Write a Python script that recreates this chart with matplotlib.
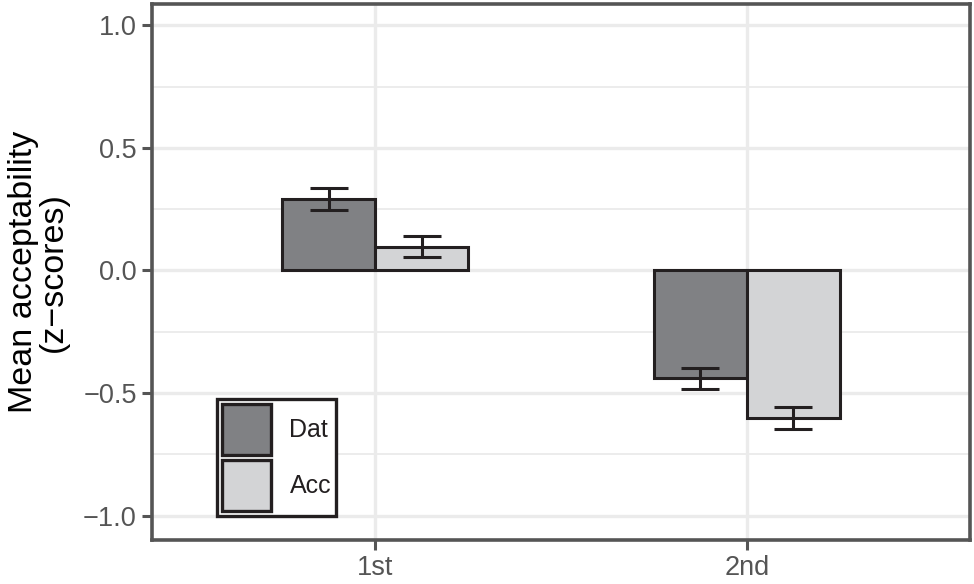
import numpy as np
import matplotlib
matplotlib.use("Agg")
import matplotlib.pyplot as plt
from matplotlib.patches import Patch

plt.rcParams['font.family'] = ['Liberation Sans', 'DejaVu Sans']

positions = ['1st', '2nd']
groups = ['Dat', 'Acc']
means = {'Dat': [0.29, -0.44], 'Acc': [0.096, -0.601]}
lower = {'Dat': [0.245, -0.484], 'Acc': [0.053, -0.646]}
upper = {'Dat': [0.337, -0.397], 'Acc': [0.139, -0.557]}
colors = {'Dat': '#808184', 'Acc': '#d3d4d6'}
yticks = [-1.0, -0.5, 0.0, 0.5, 1.0]
ytick_labels = ['\u22121.0', '\u22120.5', '0.0', '0.5', '1.0']

fig = plt.figure(figsize=(9.74, 5.84), dpi=100)
ax = fig.add_axes([0.156, 0.0753, 0.84, 0.918])

x = np.arange(1, len(positions) + 1)
width = 0.25
offsets = {'Dat': -width / 2, 'Acc': width / 2}

for g in groups:
    xs = x + offsets[g]
    m = np.array(means[g])
    lo = np.array(lower[g])
    hi = np.array(upper[g])
    ax.bar(xs, m, width=width, color=colors[g], edgecolor='#231f20',
           linewidth=2.2, zorder=3, label=g)
    ax.errorbar(xs, m, yerr=[m - lo, hi - m], fmt='none', ecolor='#231f20',
                elinewidth=2.2, capsize=13.5, capthick=2.2, zorder=4)

ax.set_xlim(0.4, 2.6)
ax.set_ylim(-1.1, 1.087)
ax.set_xticks(x)
ax.set_xticklabels(positions)
ax.set_yticks(yticks)
ax.set_yticklabels(ytick_labels)
ax.set_yticks([-0.75, -0.25, 0.25, 0.75], minor=True)

ax.grid(True, which='major', color='#ebebeb', linewidth=2.4, zorder=0)
ax.grid(True, which='minor', axis='y', color='#ebebeb', linewidth=1.3, zorder=0)
ax.set_axisbelow(True)

for s in ax.spines.values():
    s.set_color('#555555')
    s.set_linewidth(2.6)

ax.tick_params(axis='both', which='major', colors='#555555', length=7, width=2.2,
               labelsize=19.5, labelcolor='#555555', pad=4)
ax.tick_params(axis='y', which='minor', length=0)

ax.set_ylabel('Mean acceptability\n(z\u2212scores)', fontsize=24.5, color='black',
              linespacing=0.95, labelpad=10)

# legend keys are tall squares stacked with a thin gap, like ggplot
handles = [Patch(facecolor=colors[g], edgecolor='#231f20', linewidth=2.4, label=g)
           for g in groups]
leg = ax.legend(handles=handles, loc='lower left', bbox_to_anchor=(0.0795, 0.045),
                prop={'size': 18}, frameon=True, fancybox=False, framealpha=1,
                handlelength=1.95, handleheight=2.75, handletextpad=0.75,
                labelspacing=0.22, borderpad=0.2, borderaxespad=0)
leg.get_frame().set_edgecolor('#231f20')
leg.get_frame().set_linewidth(2.4)
for t in leg.get_texts():
    t.set_color('#231f20')

fig.savefig('out.png', dpi=100)
